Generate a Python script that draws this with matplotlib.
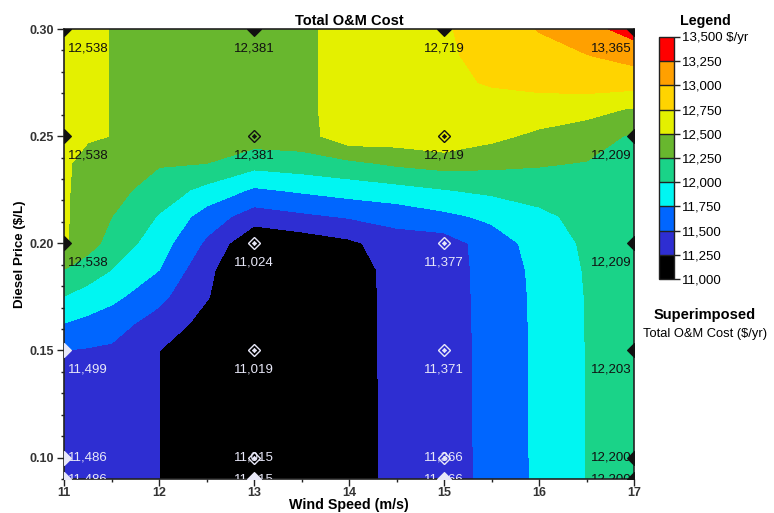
import matplotlib
matplotlib.use("Agg")
import matplotlib.pyplot as plt
from matplotlib.colors import ListedColormap, BoundaryNorm
import numpy as np

plt.rcParams['font.family'] = ['Liberation Sans', 'DejaVu Sans']

# Sensitivity grid: wind speed (m/s) x diesel price ($/L) -> total O&M cost ($/yr)
wind_speed = [11, 11.25, 11.5, 12, 12.5, 13, 13.5, 14, 14.5, 15, 15.5, 16, 16.5, 17]
diesel_price = [0.30, 0.2875, 0.275, 0.2625, 0.25, 0.2375, 0.225, 0.2125, 0.20,
                0.1875, 0.175, 0.1625, 0.15, 0.125, 0.10, 0.09]
om_cost = [
    [12538, 12525, 12497, 12430, 12400, 12381, 12400, 12680, 12690, 12719, 12882, 13010, 13150, 13365],
    [12538, 12525, 12497, 12430, 12400, 12381, 12400, 12680, 12690, 12719, 12810, 12930, 12990, 13085],
    [12538, 12525, 12497, 12430, 12400, 12381, 12400, 12680, 12690, 12719, 12762, 12800, 12875, 12860],
    [12538, 12525, 12497, 12430, 12400, 12381, 12400, 12680, 12690, 12719, 12691, 12666, 12571, 12477],
    [12538, 12525, 12497, 12360, 12345, 12381, 12390, 12660, 12640, 12719, 12565, 12439, 12387, 12209],
    [12538, 12425, 12420, 12273, 12255, 12098, 12141, 12203, 12298, 12352, 12317, 12276, 12240, 12209],
    [12538, 12390, 12340, 12134, 11931, 11719, 11791, 11862, 11919, 11994, 12055, 12109, 12150, 12209],
    [12538, 12360, 12252, 11982, 11637, 11372, 11452, 11522, 11592, 11690, 11803, 11940, 12080, 12209],
    [12538, 12350, 12160, 11866, 11457, 11024, 11100, 11200, 11380, 11377, 11620, 11850, 12040, 12209],
    [12245, 12119, 11996, 11751, 11300, 11022, 11050, 11080, 11372, 11375, 11600, 11810, 12020, 12208],
    [11995, 11902, 11819, 11561, 11266, 11021, 11045, 11075, 11370, 11374, 11595, 11800, 12010, 12206],
    [11745, 11680, 11594, 11399, 11166, 11020, 11040, 11070, 11368, 11372, 11590, 11798, 12008, 12205],
    [11499, 11480, 11465, 11252, 11120, 11019, 11040, 11070, 11367, 11371, 11588, 11796, 12006, 12203],
    [11492, 11478, 11462, 11252, 11100, 11017, 11035, 11065, 11366, 11368, 11586, 11795, 12005, 12202],
    [11486, 11476, 11460, 11252, 11100, 11015, 11030, 11060, 11364, 11366, 11585, 11794, 12005, 12200],
    [11486, 11476, 11460, 11252, 11100, 11015, 11030, 11060, 11364, 11366, 11585, 11794, 12005, 12200],
]

# Cases whose values are superimposed as text
label_wind = [11, 13, 15, 17]
label_price = [0.30, 0.25, 0.20, 0.15, 0.10, 0.09]

# Legend bands
levels = [11000, 11250, 11500, 11750, 12000, 12250, 12500, 12750, 13000, 13250, 13500]
band_colors = ['#000000', '#2e2ed2', '#0066ff', '#00f6f2', '#1ad388',
               '#68b72e', '#e4f000', '#ffd400', '#ffa000', '#ff0000']

cmap = ListedColormap(band_colors)
norm = BoundaryNorm(levels, cmap.N)

fig = plt.figure(figsize=(7.74, 5.13), dpi=100)
ax = fig.add_axes([64 / 774, 1 - 479 / 513, 570 / 774, 450 / 513])

X, Y = np.meshgrid(wind_speed, diesel_price)
Z = np.array(om_cost, dtype=float)
cs = ax.contourf(X, Y, Z, levels=levels, cmap=cmap, norm=norm, antialiased=False)

xmin, xmax = 11, 17
ymin, ymax = 0.09, 0.30
ax.set_xlim(xmin, xmax)
ax.set_ylim(ymin, ymax)

# Superimposed values and case markers
for p in label_price:
    i = diesel_price.index(p)
    for w in label_wind:
        j = wind_speed.index(w)
        v = Z[i, j]
        col = '#e8e8f8' if v < 11750 else '#111111'
        on_edge = w in (xmin, xmax) or p in (ymin, ymax)
        if on_edge:
            ax.plot(w, p, marker='D', ms=7, mfc=col, mec=col, mew=0.8, clip_on=True, zorder=4)
        else:
            ax.plot(w, p, marker='D', ms=6.5, mfc='none', mec=col, mew=1.0, clip_on=True, zorder=4)
            ax.plot(w, p, marker='D', ms=2.2, mfc=col, mec=col, mew=0.5, clip_on=True, zorder=4)
        if w == label_wind[0]:
            ha, dx = 'left', 3
        elif w == label_wind[-1]:
            ha, dx = 'right', -2
        else:
            ha, dx = 'center', 0
        dy = -14 if p >= 0.15 else 0
        ax.annotate(f"{int(round(v)):,}", (w, p), xytext=(dx, dy), textcoords='offset points',
                    ha=ha, va='center', fontsize=9.5, color=col, zorder=5,
                    annotation_clip=False, clip_on=True)

ax.set_xticks([11, 12, 13, 14, 15, 16, 17])
ax.set_xticks(np.arange(11, 17.01, 0.5), minor=True)
ax.set_yticks([0.10, 0.15, 0.20, 0.25, 0.30])
ax.set_yticks(np.arange(0.09, 0.3001, 0.01), minor=True)
ax.set_xticklabels([str(t) for t in [11, 12, 13, 14, 15, 16, 17]])
ax.set_yticklabels(['0.10', '0.15', '0.20', '0.25', '0.30'])
ax.tick_params(which='major', direction='out', length=5, width=1, color='#222222',
               labelsize=9, labelcolor='#333333', pad=2)
ax.tick_params(axis='x', which='major', pad=1)
ax.tick_params(which='minor', direction='out', length=2.5, width=1, color='#222222')
for lab in ax.get_xticklabels() + ax.get_yticklabels():
    lab.set_fontweight('bold')
for s in ax.spines.values():
    s.set_linewidth(1.2)
    s.set_color('#222222')

ax.set_title('Total O&M Cost', fontsize=10.5, fontweight='bold', pad=3)
ax.set_xlabel('Wind Speed (m/s)', fontsize=10.3, fontweight='bold')
ax.xaxis.set_label_coords(0.5, -0.043)
ax.set_ylabel('Diesel Price ($/L)', fontsize=9.6, fontweight='bold', labelpad=3)

# Legend colour bar
cax = fig.add_axes([659 / 774, 1 - 279 / 513, 15 / 774, 242 / 513])
cb = fig.colorbar(cs, cax=cax, ticks=levels, drawedges=True)
cb.outline.set_linewidth(1.0)
cb.outline.set_edgecolor('#222222')
cb.dividers.set_color('#222222')
cb.dividers.set_linewidth(1.0)
tick_text = [f"{t:,}" for t in levels]
tick_text[-1] = tick_text[-1] + ' $/yr'
cb.set_ticklabels(tick_text)
cax.tick_params(direction='out', length=4, width=1, color='#222222', labelsize=9.5, pad=2)

fig.text(705 / 774, 1 - 21 / 513, 'Legend', ha='center', va='center',
         fontsize=10.3, fontweight='bold')
fig.text(705 / 774, 1 - 315 / 513, 'Superimposed', ha='center', va='center',
         fontsize=10.5, fontweight='bold')
fig.text(705 / 774, 1 - 334 / 513, 'Total O&M Cost ($/yr)', ha='center', va='center',
         fontsize=9.3)

fig.savefig('out.png', dpi=100)
